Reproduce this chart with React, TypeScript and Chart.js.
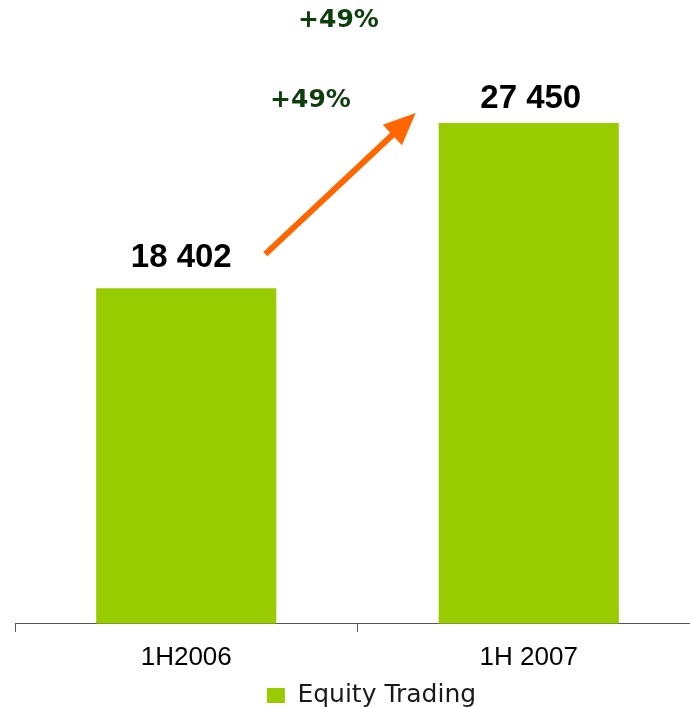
import React, { useEffect, useRef } from "react";
import { Chart, registerables } from "chart.js";

Chart.register(...registerables);

const categories: string[] = ["1H2006", "1H 2007"];
const seriesName = "Equity Trading";
const equityTrading: number[] = [18402, 27450];
const growthLabel = "+49%";
const valueLabels: string[] = ["18 402", "27 450"];

const BAR_COLOR = "#99cc00";
const ARROW_COLOR = "#ff6600";
const GROWTH_COLOR = "#0d3f0d";

const legendShiftPlugin = {
  id: "legendShift",
  afterLayout(chart: any) {
    if (chart.legend) {
      chart.legend.left += 14;
      chart.legend.right += 14;
    }
  },
};

const annotationPlugin = {
  id: "annotations",
  afterDatasetsDraw(chart: any) {
    const ctx = chart.ctx;
    const meta = chart.getDatasetMeta(0);
    const bars = meta.data;
    ctx.save();
    // value labels
    ctx.fillStyle = "#000000";
    ctx.font = "bold 33px 'Liberation Sans', Arial, sans-serif";
    ctx.textAlign = "center";
    ctx.textBaseline = "middle";
    bars.forEach((bar: any, i: number) => {
      ctx.fillText(valueLabels[i], bar.x - (i === 0 ? 5 : -2), bar.y - (i === 0 ? 30 : 24));
    });
    // arrow from bar 1 label to bar 2 label
    const b0 = bars[0];
    const b1 = bars[1];
    const x0 = b0.x + b0.width / 2 - 11;
    const y0 = b0.y - 34;
    const x1 = b1.x - b1.width / 2 - 23;
    const y1 = b1.y - 10;
    const ang = Math.atan2(y1 - y0, x1 - x0);
    const headLen = 32;
    const headW = 14;
    const bx = x1 - headLen * Math.cos(ang);
    const by = y1 - headLen * Math.sin(ang);
    ctx.strokeStyle = ARROW_COLOR;
    ctx.lineWidth = 6;
    ctx.beginPath();
    ctx.moveTo(x0, y0);
    ctx.lineTo(bx + 4 * Math.cos(ang), by + 4 * Math.sin(ang));
    ctx.stroke();
    ctx.fillStyle = ARROW_COLOR;
    ctx.beginPath();
    ctx.moveTo(x1, y1);
    ctx.lineTo(bx - headW * Math.sin(ang), by + headW * Math.cos(ang));
    ctx.lineTo(bx + headW * Math.sin(ang), by - headW * Math.cos(ang));
    ctx.closePath();
    ctx.fill();
    // growth labels
    const mid = (b0.x + b1.x) / 2;
    ctx.fillStyle = GROWTH_COLOR;
    ctx.font = "bold 25px 'DejaVu Sans', Verdana, sans-serif";
    ctx.fillText(growthLabel, mid - 19, 20);
    ctx.fillText(growthLabel, mid - 47, 100);
    ctx.restore();
  },
};

export default function App() {
  const ref = useRef<HTMLCanvasElement | null>(null);
  useEffect(() => {
    if (!ref.current) return;
    const chart = new Chart(ref.current, {
      type: "bar",
      data: {
        labels: categories,
        datasets: [
          {
            label: seriesName,
            data: equityTrading,
            backgroundColor: BAR_COLOR,
            borderWidth: 0,
            categoryPercentage: 1,
            barPercentage: 0.526,
          },
        ],
      },
      options: {
        responsive: false,
        animation: false,
        layout: { padding: { left: 15, right: 0, top: 0, bottom: 0 } },
        plugins: {
          legend: {
            display: true,
            position: "bottom",
            labels: {
              boxWidth: 18,
              boxHeight: 15,
              padding: 0,
              color: "#1a1a1a",
              font: { family: "'DejaVu Sans', Verdana, sans-serif", size: 25 },
            },
          },
          tooltip: { enabled: false },
        },
        scales: {
          x: {
            offset: true,
            grid: {
              offset: true,
              drawOnChartArea: false,
              drawTicks: true,
              tickLength: 8,
              color: "#555555",
            },
            border: { display: true, color: "#555555", width: 1 },
            ticks: {
              color: "#000000",
              padding: 10,
              font: { family: "'Liberation Sans', Arial, sans-serif", size: 26 },
            },
          },
          y: {
            display: false,
            min: 0,
            max: 34200,
          },
        },
      },
      plugins: [legendShiftPlugin, annotationPlugin],
    });
    return () => chart.destroy();
  }, []);
  return (
    <div style={{ position: "absolute", left: 0, top: 0, width: 690, height: 707, overflow: "hidden", background: "#fff" }}>
      <canvas ref={ref} width={700} height={718} style={{ display: "block" }} />
    </div>
  );
}
